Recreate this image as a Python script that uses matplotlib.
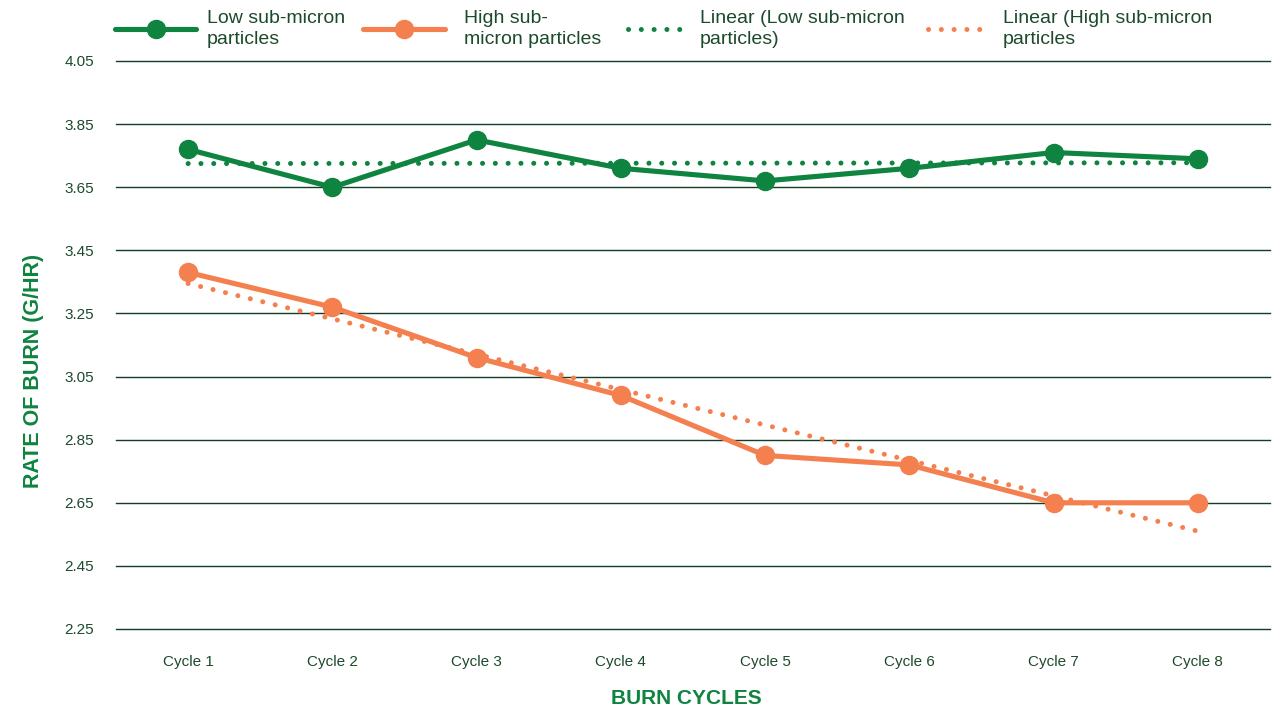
import matplotlib
matplotlib.use("Agg")
import matplotlib.pyplot as plt
import numpy as np
from matplotlib.lines import Line2D

categories = ["Cycle 1", "Cycle 2", "Cycle 3", "Cycle 4", "Cycle 5", "Cycle 6", "Cycle 7", "Cycle 8"]
low_sub_micron = [3.77, 3.65, 3.80, 3.71, 3.67, 3.71, 3.76, 3.74]
high_sub_micron = [3.38, 3.27, 3.11, 2.99, 2.80, 2.77, 2.65, 2.65]
y_ticks = [2.25, 2.45, 2.65, 2.85, 3.05, 3.25, 3.45, 3.65, 3.85, 4.05]
legend_labels = ["Low sub-micron\nparticles", "High sub-\nmicron particles",
                 "Linear (Low sub-micron\nparticles)", "Linear (High sub-micron\nparticles"]

GREEN = "#0f8340"
ORANGE = "#f4804f"
TEXT = "#1c4a2c"
GRID = "#133d25"

plt.rcParams['font.family'] = ['Liberation Sans', 'DejaVu Sans']

W, H = 1277, 712
fig = plt.figure(figsize=(W / 100, H / 100), dpi=100)
ax = fig.add_axes([116 / W, 1 - 629 / H, 1154 / W, 568 / H])

x = np.arange(len(categories))
xn = x + 1

LW = 3.7
MS = 13
DOTS = (0, (0.01, 2.55))

for data, col in ((low_sub_micron, GREEN), (high_sub_micron, ORANGE)):
    p = np.polyfit(xn, data, 1)
    ax.plot(x, np.polyval(p, xn), color=col, lw=3.6, linestyle=DOTS,
            dash_capstyle='round', zorder=2)

ax.plot(x, low_sub_micron, color=GREEN, lw=LW, marker='o', ms=MS, zorder=3,
        solid_capstyle='round', solid_joinstyle='round')
ax.plot(x, high_sub_micron, color=ORANGE, lw=LW, marker='o', ms=MS, zorder=3,
        solid_capstyle='round', solid_joinstyle='round')

ax.set_xlim(-0.5, len(categories) - 0.5)
ax.set_ylim(2.25, 4.05)
ax.set_yticks(y_ticks)
ax.set_yticklabels([f"{v:.2f}" for v in y_ticks])
ax.set_xticks(x)
ax.set_xticklabels(categories)
ax.grid(axis='y', color=GRID, lw=1.0)
for gl in ax.get_ygridlines():
    gl.set_clip_on(False)
ax.set_axisbelow(True)
for s in ax.spines.values():
    s.set_visible(False)
ax.tick_params(axis='both', length=0, labelsize=11, labelcolor=TEXT)
ax.tick_params(axis='y', pad=16)
ax.tick_params(axis='x', pad=19)

ax.set_xlabel("BURN CYCLES", fontsize=15, fontweight='bold', color=GREEN, va='center')
ax.xaxis.set_label_coords((686 - 116) / 1154, -(699 - 629) / 568)
ax.set_ylabel("RATE OF BURN (G/HR)", fontsize=15.5, fontweight='bold', color=GREEN,
              va='center')
ax.yaxis.set_label_coords((34 - 116) / 1154, (629 - 371) / 568)

handles = [
    Line2D([], [], color=GREEN, lw=LW, marker='o', ms=MS, solid_capstyle='round'),
    Line2D([], [], color=ORANGE, lw=LW, marker='o', ms=MS, solid_capstyle='round'),
    Line2D([], [], color=GREEN, lw=3.6, linestyle=DOTS, dash_capstyle='round'),
    Line2D([], [], color=ORANGE, lw=3.6, linestyle=DOTS, dash_capstyle='round'),
]
FS = 14
em = FS * 100 / 72
# (handle start px, handle length px, text start px)
slots = [(115, 81, 207), (363, 82, 464), (628, 52, 700), (928, 52, 1003)]
for h, lab, (hx, hl, tx) in zip(handles, legend_labels, slots):
    lg = fig.legend([h], [lab], loc='center left',
                    bbox_to_anchor=(hx / W, 1 - 29 / H),
                    frameon=False, fontsize=FS, handlelength=hl / em,
                    handletextpad=(tx - hx - hl) / em, borderpad=0, borderaxespad=0,
                    labelcolor=TEXT, numpoints=1)
    for t in lg.get_texts():
        t.set_linespacing(1.25)

fig.savefig("out.png", dpi=100)
